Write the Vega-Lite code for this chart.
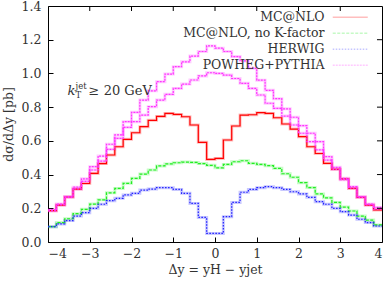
{
  "$schema": "https://vega.github.io/schema/vega-lite/v6.json",
  "width": 334,
  "height": 236,
  "autosize": {"type": "none"},
  "padding": {"left": 48, "top": 6, "right": 6, "bottom": 40},
  "config": {
    "font": "DejaVu Serif",
    "view": {"stroke": "#000", "strokeWidth": 1},
    "axis": {
      "domain": false, "grid": false, "ticks": true,
      "tickColor": "#000", "tickSize": -5,
      "labelFont": "DejaVu Serif", "labelFontSize": 12.5, "labelColor": "#333",
      "titleFont": "DejaVu Serif", "titleFontSize": 12.5, "titleColor": "#333", "titleFontWeight": "normal"
    },
    "legend": {
      "labelFont": "DejaVu Serif", "labelFontSize": 12.5, "labelColor": "#333"
    }
  },
  "datasets": {
    "h": [
      {"s":"MC@NLO","c":"a","x":-4.0,"v":0.186},{"s":"MC@NLO","c":"a","x":-3.8,"v":0.219},{"s":"MC@NLO","c":"a","x":-3.6,"v":0.267},{"s":"MC@NLO","c":"a","x":-3.4,"v":0.314},{"s":"MC@NLO","c":"a","x":-3.2,"v":0.347},{"s":"MC@NLO","c":"a","x":-3.0,"v":0.407},{"s":"MC@NLO","c":"a","x":-2.8,"v":0.465},{"s":"MC@NLO","c":"a","x":-2.6,"v":0.516},{"s":"MC@NLO","c":"a","x":-2.4,"v":0.565},{"s":"MC@NLO","c":"a","x":-2.2,"v":0.609},{"s":"MC@NLO","c":"a","x":-2.0,"v":0.648},{"s":"MC@NLO","c":"a","x":-1.8,"v":0.684},{"s":"MC@NLO","c":"a","x":-1.6,"v":0.722},{"s":"MC@NLO","c":"a","x":-1.4,"v":0.745},{"s":"MC@NLO","c":"a","x":-1.2,"v":0.763},{"s":"MC@NLO","c":"a","x":-1.0,"v":0.757},{"s":"MC@NLO","c":"a","x":-0.8,"v":0.743},{"s":"MC@NLO","c":"a","x":-0.6,"v":0.694},{"s":"MC@NLO","c":"a","x":-0.4,"v":0.591},{"s":"MC@NLO","c":"a","x":-0.2,"v":0.49},
      {"s":"MC@NLO","c":"a","x":0.0,"v":0.496},{"s":"MC@NLO","c":"a","x":0.2,"v":0.605},{"s":"MC@NLO","c":"a","x":0.4,"v":0.688},{"s":"MC@NLO","c":"a","x":0.6,"v":0.753},{"s":"MC@NLO","c":"a","x":0.8,"v":0.755},{"s":"MC@NLO","c":"a","x":1.0,"v":0.767},{"s":"MC@NLO","c":"a","x":1.2,"v":0.763},{"s":"MC@NLO","c":"a","x":1.4,"v":0.737},{"s":"MC@NLO","c":"a","x":1.6,"v":0.70},{"s":"MC@NLO","c":"a","x":1.8,"v":0.67},{"s":"MC@NLO","c":"a","x":2.0,"v":0.625},{"s":"MC@NLO","c":"a","x":2.2,"v":0.565},{"s":"MC@NLO","c":"a","x":2.4,"v":0.525},{"s":"MC@NLO","c":"a","x":2.6,"v":0.467},{"s":"MC@NLO","c":"a","x":2.8,"v":0.431},{"s":"MC@NLO","c":"a","x":3.0,"v":0.374},{"s":"MC@NLO","c":"a","x":3.2,"v":0.318},{"s":"MC@NLO","c":"a","x":3.4,"v":0.265},{"s":"MC@NLO","c":"a","x":3.6,"v":0.219},{"s":"MC@NLO","c":"a","x":3.8,"v":0.19},{"s":"MC@NLO","c":"a","x":4.0,"v":0.19},

      {"s":"MC@NLO, no K-factor","c":"b","x":-4.0,"v":0.091},{"s":"MC@NLO, no K-factor","c":"b","x":-3.8,"v":0.115},{"s":"MC@NLO, no K-factor","c":"b","x":-3.6,"v":0.138},{"s":"MC@NLO, no K-factor","c":"b","x":-3.4,"v":0.168},{"s":"MC@NLO, no K-factor","c":"b","x":-3.2,"v":0.194},{"s":"MC@NLO, no K-factor","c":"b","x":-3.0,"v":0.225},{"s":"MC@NLO, no K-factor","c":"b","x":-2.8,"v":0.25},{"s":"MC@NLO, no K-factor","c":"b","x":-2.6,"v":0.292},{"s":"MC@NLO, no K-factor","c":"b","x":-2.4,"v":0.318},{"s":"MC@NLO, no K-factor","c":"b","x":-2.2,"v":0.348},{"s":"MC@NLO, no K-factor","c":"b","x":-2.0,"v":0.378},{"s":"MC@NLO, no K-factor","c":"b","x":-1.8,"v":0.403},{"s":"MC@NLO, no K-factor","c":"b","x":-1.6,"v":0.427},{"s":"MC@NLO, no K-factor","c":"b","x":-1.4,"v":0.451},{"s":"MC@NLO, no K-factor","c":"b","x":-1.2,"v":0.463},{"s":"MC@NLO, no K-factor","c":"b","x":-1.0,"v":0.47},{"s":"MC@NLO, no K-factor","c":"b","x":-0.8,"v":0.474},{"s":"MC@NLO, no K-factor","c":"b","x":-0.6,"v":0.472},{"s":"MC@NLO, no K-factor","c":"b","x":-0.4,"v":0.465},{"s":"MC@NLO, no K-factor","c":"b","x":-0.2,"v":0.455},
      {"s":"MC@NLO, no K-factor","c":"b","x":0.0,"v":0.44},{"s":"MC@NLO, no K-factor","c":"b","x":0.2,"v":0.46},{"s":"MC@NLO, no K-factor","c":"b","x":0.4,"v":0.476},{"s":"MC@NLO, no K-factor","c":"b","x":0.6,"v":0.482},{"s":"MC@NLO, no K-factor","c":"b","x":0.8,"v":0.467},{"s":"MC@NLO, no K-factor","c":"b","x":1.0,"v":0.46},{"s":"MC@NLO, no K-factor","c":"b","x":1.2,"v":0.453},{"s":"MC@NLO, no K-factor","c":"b","x":1.4,"v":0.437},{"s":"MC@NLO, no K-factor","c":"b","x":1.6,"v":0.405},{"s":"MC@NLO, no K-factor","c":"b","x":1.8,"v":0.384},{"s":"MC@NLO, no K-factor","c":"b","x":2.0,"v":0.352},{"s":"MC@NLO, no K-factor","c":"b","x":2.2,"v":0.323},{"s":"MC@NLO, no K-factor","c":"b","x":2.4,"v":0.285},{"s":"MC@NLO, no K-factor","c":"b","x":2.6,"v":0.262},{"s":"MC@NLO, no K-factor","c":"b","x":2.8,"v":0.235},{"s":"MC@NLO, no K-factor","c":"b","x":3.0,"v":0.207},{"s":"MC@NLO, no K-factor","c":"b","x":3.2,"v":0.184},{"s":"MC@NLO, no K-factor","c":"b","x":3.4,"v":0.154},{"s":"MC@NLO, no K-factor","c":"b","x":3.6,"v":0.13},{"s":"MC@NLO, no K-factor","c":"b","x":3.8,"v":0.101},{"s":"MC@NLO, no K-factor","c":"b","x":4.0,"v":0.101},

      {"s":"HERWIG","c":"c","x":-4.0,"v":0.091},{"s":"HERWIG","c":"c","x":-3.8,"v":0.107},{"s":"HERWIG","c":"c","x":-3.6,"v":0.127},{"s":"HERWIG","c":"c","x":-3.4,"v":0.154},{"s":"HERWIG","c":"c","x":-3.2,"v":0.174},{"s":"HERWIG","c":"c","x":-3.0,"v":0.2},{"s":"HERWIG","c":"c","x":-2.8,"v":0.224},{"s":"HERWIG","c":"c","x":-2.6,"v":0.245},{"s":"HERWIG","c":"c","x":-2.4,"v":0.259},{"s":"HERWIG","c":"c","x":-2.2,"v":0.279},{"s":"HERWIG","c":"c","x":-2.0,"v":0.289},{"s":"HERWIG","c":"c","x":-1.8,"v":0.308},{"s":"HERWIG","c":"c","x":-1.6,"v":0.314},{"s":"HERWIG","c":"c","x":-1.4,"v":0.322},{"s":"HERWIG","c":"c","x":-1.2,"v":0.322},{"s":"HERWIG","c":"c","x":-1.0,"v":0.312},{"s":"HERWIG","c":"c","x":-0.8,"v":0.289},{"s":"HERWIG","c":"c","x":-0.6,"v":0.229},{"s":"HERWIG","c":"c","x":-0.4,"v":0.146},{"s":"HERWIG","c":"c","x":-0.2,"v":0.051},
      {"s":"HERWIG","c":"c","x":0.0,"v":0.051},{"s":"HERWIG","c":"c","x":0.2,"v":0.15},{"s":"HERWIG","c":"c","x":0.4,"v":0.235},{"s":"HERWIG","c":"c","x":0.6,"v":0.295},{"s":"HERWIG","c":"c","x":0.8,"v":0.312},{"s":"HERWIG","c":"c","x":1.0,"v":0.322},{"s":"HERWIG","c":"c","x":1.2,"v":0.328},{"s":"HERWIG","c":"c","x":1.4,"v":0.322},{"s":"HERWIG","c":"c","x":1.6,"v":0.312},{"s":"HERWIG","c":"c","x":1.8,"v":0.298},{"s":"HERWIG","c":"c","x":2.0,"v":0.285},{"s":"HERWIG","c":"c","x":2.2,"v":0.265},{"s":"HERWIG","c":"c","x":2.4,"v":0.239},{"s":"HERWIG","c":"c","x":2.6,"v":0.224},{"s":"HERWIG","c":"c","x":2.8,"v":0.2},{"s":"HERWIG","c":"c","x":3.0,"v":0.18},{"s":"HERWIG","c":"c","x":3.2,"v":0.16},{"s":"HERWIG","c":"c","x":3.4,"v":0.135},{"s":"HERWIG","c":"c","x":3.6,"v":0.115},{"s":"HERWIG","c":"c","x":3.8,"v":0.095},{"s":"HERWIG","c":"c","x":4.0,"v":0.095},

      {"s":"POWHEG+PYTHIA","c":"d","x":-4.0,"v":0.19},{"s":"POWHEG+PYTHIA","c":"d","x":-3.8,"v":0.225},{"s":"POWHEG+PYTHIA","c":"d","x":-3.6,"v":0.27},{"s":"POWHEG+PYTHIA","c":"d","x":-3.4,"v":0.325},{"s":"POWHEG+PYTHIA","c":"d","x":-3.2,"v":0.375},{"s":"POWHEG+PYTHIA","c":"d","x":-3.0,"v":0.447},{"s":"POWHEG+PYTHIA","c":"d","x":-2.8,"v":0.51},{"s":"POWHEG+PYTHIA","c":"d","x":-2.6,"v":0.58},{"s":"POWHEG+PYTHIA","c":"d","x":-2.4,"v":0.635},{"s":"POWHEG+PYTHIA","c":"d","x":-2.2,"v":0.714},{"s":"POWHEG+PYTHIA","c":"d","x":-2.0,"v":0.769},{"s":"POWHEG+PYTHIA","c":"d","x":-1.8,"v":0.842},{"s":"POWHEG+PYTHIA","c":"d","x":-1.6,"v":0.897},{"s":"POWHEG+PYTHIA","c":"d","x":-1.4,"v":0.951},{"s":"POWHEG+PYTHIA","c":"d","x":-1.2,"v":0.996},{"s":"POWHEG+PYTHIA","c":"d","x":-1.0,"v":1.04},{"s":"POWHEG+PYTHIA","c":"d","x":-0.8,"v":1.069},{"s":"POWHEG+PYTHIA","c":"d","x":-0.6,"v":1.103},{"s":"POWHEG+PYTHIA","c":"d","x":-0.4,"v":1.13},{"s":"POWHEG+PYTHIA","c":"d","x":-0.2,"v":1.163},
      {"s":"POWHEG+PYTHIA","c":"d","x":0.0,"v":1.15},{"s":"POWHEG+PYTHIA","c":"d","x":0.2,"v":1.13},{"s":"POWHEG+PYTHIA","c":"d","x":0.4,"v":1.10},{"s":"POWHEG+PYTHIA","c":"d","x":0.6,"v":1.074},{"s":"POWHEG+PYTHIA","c":"d","x":0.8,"v":1.03},{"s":"POWHEG+PYTHIA","c":"d","x":1.0,"v":0.96},{"s":"POWHEG+PYTHIA","c":"d","x":1.2,"v":0.90},{"s":"POWHEG+PYTHIA","c":"d","x":1.4,"v":0.85},{"s":"POWHEG+PYTHIA","c":"d","x":1.6,"v":0.79},{"s":"POWHEG+PYTHIA","c":"d","x":1.8,"v":0.74},{"s":"POWHEG+PYTHIA","c":"d","x":2.0,"v":0.69},{"s":"POWHEG+PYTHIA","c":"d","x":2.2,"v":0.645},{"s":"POWHEG+PYTHIA","c":"d","x":2.4,"v":0.595},{"s":"POWHEG+PYTHIA","c":"d","x":2.6,"v":0.506},{"s":"POWHEG+PYTHIA","c":"d","x":2.8,"v":0.443},{"s":"POWHEG+PYTHIA","c":"d","x":3.0,"v":0.378},{"s":"POWHEG+PYTHIA","c":"d","x":3.2,"v":0.328},{"s":"POWHEG+PYTHIA","c":"d","x":3.4,"v":0.269},{"s":"POWHEG+PYTHIA","c":"d","x":3.6,"v":0.225},{"s":"POWHEG+PYTHIA","c":"d","x":3.8,"v":0.205},{"s":"POWHEG+PYTHIA","c":"d","x":4.0,"v":0.205},

      {"s":"POWHEG+PYTHIA","c":"e","x":-4.0,"v":0.185},{"s":"POWHEG+PYTHIA","c":"e","x":-3.8,"v":0.22},{"s":"POWHEG+PYTHIA","c":"e","x":-3.6,"v":0.265},{"s":"POWHEG+PYTHIA","c":"e","x":-3.4,"v":0.315},{"s":"POWHEG+PYTHIA","c":"e","x":-3.2,"v":0.36},{"s":"POWHEG+PYTHIA","c":"e","x":-3.0,"v":0.427},{"s":"POWHEG+PYTHIA","c":"e","x":-2.8,"v":0.48},{"s":"POWHEG+PYTHIA","c":"e","x":-2.6,"v":0.55},{"s":"POWHEG+PYTHIA","c":"e","x":-2.4,"v":0.615},{"s":"POWHEG+PYTHIA","c":"e","x":-2.2,"v":0.68},{"s":"POWHEG+PYTHIA","c":"e","x":-2.0,"v":0.714},{"s":"POWHEG+PYTHIA","c":"e","x":-1.8,"v":0.753},{"s":"POWHEG+PYTHIA","c":"e","x":-1.6,"v":0.803},{"s":"POWHEG+PYTHIA","c":"e","x":-1.4,"v":0.842},{"s":"POWHEG+PYTHIA","c":"e","x":-1.2,"v":0.876},{"s":"POWHEG+PYTHIA","c":"e","x":-1.0,"v":0.911},{"s":"POWHEG+PYTHIA","c":"e","x":-0.8,"v":0.937},{"s":"POWHEG+PYTHIA","c":"e","x":-0.6,"v":0.961},{"s":"POWHEG+PYTHIA","c":"e","x":-0.4,"v":0.985},{"s":"POWHEG+PYTHIA","c":"e","x":-0.2,"v":1.004},
      {"s":"POWHEG+PYTHIA","c":"e","x":0.0,"v":1.0},{"s":"POWHEG+PYTHIA","c":"e","x":0.2,"v":0.99},{"s":"POWHEG+PYTHIA","c":"e","x":0.4,"v":0.97},{"s":"POWHEG+PYTHIA","c":"e","x":0.6,"v":0.941},{"s":"POWHEG+PYTHIA","c":"e","x":0.8,"v":0.911},{"s":"POWHEG+PYTHIA","c":"e","x":1.0,"v":0.872},{"s":"POWHEG+PYTHIA","c":"e","x":1.2,"v":0.823},{"s":"POWHEG+PYTHIA","c":"e","x":1.4,"v":0.793},{"s":"POWHEG+PYTHIA","c":"e","x":1.6,"v":0.747},{"s":"POWHEG+PYTHIA","c":"e","x":1.8,"v":0.694},{"s":"POWHEG+PYTHIA","c":"e","x":2.0,"v":0.645},{"s":"POWHEG+PYTHIA","c":"e","x":2.2,"v":0.595},{"s":"POWHEG+PYTHIA","c":"e","x":2.4,"v":0.546},{"s":"POWHEG+PYTHIA","c":"e","x":2.6,"v":0.486},{"s":"POWHEG+PYTHIA","c":"e","x":2.8,"v":0.431},{"s":"POWHEG+PYTHIA","c":"e","x":3.0,"v":0.37},{"s":"POWHEG+PYTHIA","c":"e","x":3.2,"v":0.32},{"s":"POWHEG+PYTHIA","c":"e","x":3.4,"v":0.265},{"s":"POWHEG+PYTHIA","c":"e","x":3.6,"v":0.22},{"s":"POWHEG+PYTHIA","c":"e","x":3.8,"v":0.195},{"s":"POWHEG+PYTHIA","c":"e","x":4.0,"v":0.195}
    ]
  },
  "layer": [
    {
      "data": {"name": "h"},
      "mark": {"type": "line", "interpolate": "step-after", "strokeWidth": 3, "opacity": 0.25},
      "encoding": {
        "x": {"field": "x", "type": "quantitative", "scale": {"domain": [-4, 4], "nice": false},
              "axis": {"orient": "bottom", "values": [-4,-3,-2,-1,0,1,2,3,4], "title": "Δy = yH − yjet", "labelPadding": 10, "titlePadding": 4}},
        "y": {"field": "v", "type": "quantitative", "scale": {"domain": [0, 1.4], "nice": false},
              "axis": {"orient": "left", "values": [0,0.2,0.4,0.6,0.8,1,1.2,1.4], "title": "dσ/dΔy [pb]", "labelPadding": 12, "titlePadding": 6}},
        "detail": {"field": "c"},
        "color": {"field": "s", "type": "nominal",
                  "scale": {"domain": ["MC@NLO", "MC@NLO, no K-factor", "HERWIG", "POWHEG+PYTHIA"], "range": ["#ff0000", "#22ee22", "#2222ff", "#ff33ff"]},
                  "legend": {"title": null, "orient": "none", "legendX": 296, "legendY": 5, "symbolType": "M-3.5,0H3.5", "symbolSize": 100, "symbolStrokeWidth": 1.5, "labelAlign": "right", "labelOffset": -32, "rowPadding": 3, "labelLimit": 300}}
      }
    },
    {
      "data": {"name": "h"},
      "mark": {"type": "line", "interpolate": "step-after", "strokeWidth": 1.2},
      "encoding": {
        "x": {"field": "x", "type": "quantitative", "axis": null},
        "y": {"field": "v", "type": "quantitative", "axis": null},
        "detail": {"field": "c"},
        "color": {"field": "s", "type": "nominal",
                  "scale": {"domain": ["MC@NLO", "MC@NLO, no K-factor", "HERWIG", "POWHEG+PYTHIA"], "range": ["#ff0000", "#22ee22", "#2222ff", "#ff33ff"]},
                  "legend": {"title": null, "orient": "none", "legendX": 296, "legendY": 5, "symbolType": "M-3.5,0H3.5", "symbolSize": 100, "symbolStrokeWidth": 1.5, "labelAlign": "right", "labelOffset": -32, "rowPadding": 3, "labelLimit": 300}},
        "strokeDash": {"field": "s", "type": "nominal",
                  "scale": {"domain": ["MC@NLO", "MC@NLO, no K-factor", "HERWIG", "POWHEG+PYTHIA"], "range": [[1,0], [3,1.5], [1.5,1.5], [2,1]]},
                  "legend": {"title": null, "orient": "none", "legendX": 296, "legendY": 5, "symbolType": "M-3.5,0H3.5", "symbolSize": 100, "symbolStrokeWidth": 1.5, "labelAlign": "right", "labelOffset": -32, "rowPadding": 3, "labelLimit": 300}}
      }
    },
    {
      "data": {"values": [{"t": -3}, {"t": -2}, {"t": -1}, {"t": 0}, {"t": 1}, {"t": 2}, {"t": 3}]},
      "mark": {"type": "rule", "color": "#000", "strokeWidth": 1},
      "encoding": {
        "x": {"field": "t", "type": "quantitative", "axis": null},
        "y": {"datum": 1.4, "type": "quantitative", "axis": null},
        "y2": {"datum": 1.3703}
      }
    },
    {
      "data": {"values": [{"t": 0.2}, {"t": 0.4}, {"t": 0.6}, {"t": 0.8}, {"t": 1.0}, {"t": 1.2}]},
      "mark": {"type": "rule", "color": "#000", "strokeWidth": 1},
      "encoding": {
        "y": {"field": "t", "type": "quantitative", "axis": null},
        "x": {"datum": 4, "type": "quantitative", "axis": null},
        "x2": {"datum": 3.88}
      }
    },
    {
      "data": {"values": [{"x": -3.53, "y": 0.872, "t": "k"}]},
      "mark": {"type": "text", "align": "left", "baseline": "alphabetic", "fontSize": 13, "fontStyle": "italic", "color": "#333"},
      "encoding": {"x": {"field": "x", "type": "quantitative", "axis": null}, "y": {"field": "y", "type": "quantitative", "axis": null}, "text": {"field": "t"}}
    },
    {
      "data": {"values": [{"x": -3.53, "y": 0.872, "t": "jet"}]},
      "mark": {"type": "text", "align": "left", "baseline": "alphabetic", "fontSize": 8.5, "dx": 8, "dy": -6, "color": "#333"},
      "encoding": {"x": {"field": "x", "type": "quantitative", "axis": null}, "y": {"field": "y", "type": "quantitative", "axis": null}, "text": {"field": "t"}}
    },
    {
      "data": {"values": [{"x": -3.53, "y": 0.872, "t": "T"}]},
      "mark": {"type": "text", "align": "left", "baseline": "alphabetic", "fontSize": 8.5, "dx": 8, "dy": 3, "color": "#333"},
      "encoding": {"x": {"field": "x", "type": "quantitative", "axis": null}, "y": {"field": "y", "type": "quantitative", "axis": null}, "text": {"field": "t"}}
    },
    {
      "data": {"values": [{"x": -3.53, "y": 0.872, "t": "≥ 20 GeV"}]},
      "mark": {"type": "text", "align": "left", "baseline": "alphabetic", "fontSize": 13, "dx": 21, "color": "#333"},
      "encoding": {"x": {"field": "x", "type": "quantitative", "axis": null}, "y": {"field": "y", "type": "quantitative", "axis": null}, "text": {"field": "t"}}
    }
  ],
  "resolve": {"axis": {"x": "independent", "y": "independent"}}
}
